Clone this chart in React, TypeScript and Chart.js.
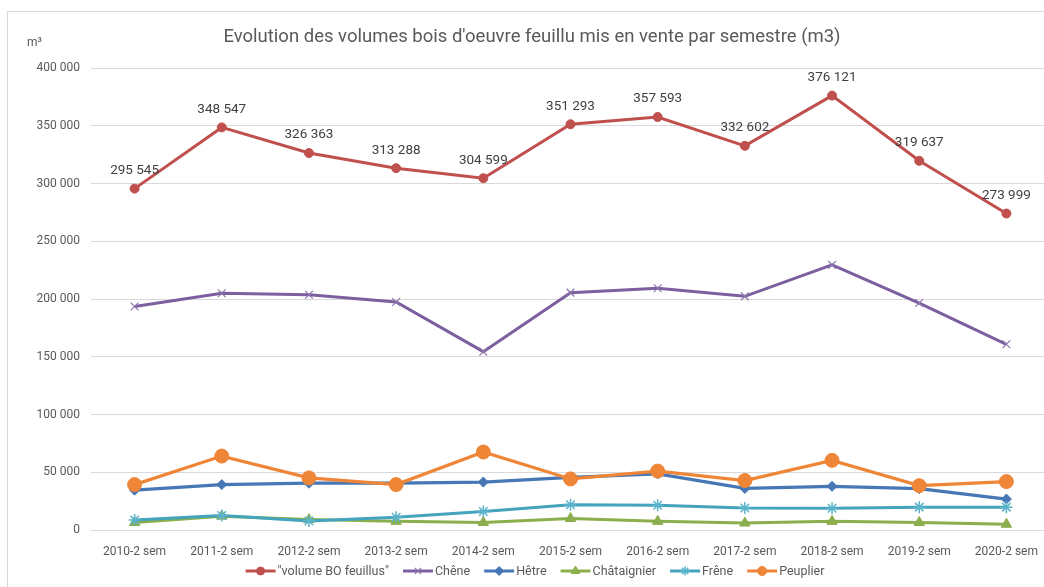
import React, { useEffect, useRef } from "react";
import { Chart, registerables } from "chart.js";
import { drawPoint } from "chart.js/helpers";

Chart.register(...registerables);

const categories = [
  "2010-2 sem", "2011-2 sem", "2012-2 sem", "2013-2 sem", "2014-2 sem", "2015-2 sem",
  "2016-2 sem", "2017-2 sem", "2018-2 sem", "2019-2 sem", "2020-2 sem",
];

const seriesNames = ['"volume BO feuillus"', "Chêne", "Hêtre", "Châtaignier", "Frêne", "Peuplier"];

const volumeBO = [295545, 348547, 326363, 313288, 304599, 351293, 357593, 332602, 376121, 319637, 273999];
const chene = [193500, 205000, 203700, 197400, 154400, 205500, 209300, 202300, 229500, 196500, 160800];
const hetre = [34500, 39300, 40500, 40500, 41500, 45500, 48600, 36000, 37800, 35800, 26800];
const chataignier = [6500, 12000, 9000, 7500, 6500, 10000, 7500, 6000, 7500, 6500, 5000];
const frene = [8700, 12500, 7800, 11000, 16000, 21800, 21500, 19000, 18900, 19800, 19800];
const peuplier = [39300, 64000, 45100, 39300, 67500, 44200, 51000, 42800, 60300, 38400, 41900];

const yTicks = [0, 50000, 100000, 150000, 200000, 250000, 300000, 350000, 400000];

const titleText = "Evolution des volumes bois d'oeuvre feuillu mis en vente par semestre (m3)";
const unitText = "m³";

const FONT = "Roboto, 'Liberation Sans', sans-serif";
const GRAY = "#595959";

const styles = [
  { color: "#c0504d", marker: "#c0504d", pointStyle: "circle", radius: 4.5, legendRadius: 4, lw: 3, pbw: 1 },
  { color: "#7b5f9e", marker: "#8d77ae", pointStyle: "crossRot", radius: 5.5, legendRadius: 4.5, lw: 3, pbw: 1.2 },
  { color: "#4777b5", marker: "#4777b5", pointStyle: "rectRot", radius: 5, legendRadius: 4.5, lw: 3.2, pbw: 1 },
  { color: "#8cae4c", marker: "#8cae4c", pointStyle: "triangle", radius: 6, legendRadius: 5, lw: 3, pbw: 1 },
  { color: "#44a3bd", marker: "#5ab4cc", pointStyle: "star", radius: 6, legendRadius: 4.5, lw: 3, pbw: 1.5 },
  { color: "#ee8537", marker: "#ee8537", pointStyle: "circle", radius: 7, legendRadius: 4.5, lw: 3.2, pbw: 1 },
];

const allSeries = [volumeBO, chene, hetre, chataignier, frene, peuplier];

function fmt(n: number): string {
  return String(Math.round(n)).replace(/\B(?=(\d{3})+(?!\d))/g, " ");
}

const overlayPlugin = {
  id: "overlay",
  afterDatasetsDraw(chart: any) {
    const ctx = chart.ctx;
    const meta = chart.getDatasetMeta(0);
    ctx.save();
    ctx.font = `13.5px ${FONT}`;
    ctx.fillStyle = "#404040";
    ctx.textAlign = "center";
    ctx.textBaseline = "middle";
    meta.data.forEach((pt: any, i: number) => {
      ctx.fillText(fmt(volumeBO[i]), pt.x, pt.y - 18);
    });
    ctx.restore();
  },
  afterDraw(chart: any) {
    const ctx = chart.ctx;
    ctx.save();
    // title
    ctx.font = `18.5px ${FONT}`;
    ctx.fillStyle = GRAY;
    ctx.textAlign = "center";
    ctx.textBaseline = "middle";
    ctx.fillText(titleText, 524, 25);
    // unit
    ctx.font = `12px ${FONT}`;
    ctx.textAlign = "left";
    ctx.fillText(unitText, 19, 31);
    // legend
    ctx.font = `12.5px ${FONT}`;
    const lineLen = 30;
    const textGap = 2;
    const itemGap = 14;
    const widths = seriesNames.map((n) => lineLen + textGap + ctx.measureText(n).width);
    const total = widths.reduce((a, b) => a + b, 0) + itemGap * (widths.length - 1);
    let x = 527 - total / 2;
    const y = 559;
    seriesNames.forEach((name, i) => {
      const s = styles[i];
      ctx.strokeStyle = s.color;
      ctx.lineWidth = 3;
      ctx.beginPath();
      ctx.moveTo(x, y);
      ctx.lineTo(x + lineLen, y);
      ctx.stroke();
      ctx.fillStyle = s.marker;
      ctx.strokeStyle = s.marker;
      ctx.lineWidth = s.pbw;
      drawPoint(ctx, { pointStyle: s.pointStyle, radius: s.legendRadius, rotation: 0, borderWidth: s.pbw }, x + lineLen / 2, y);
      ctx.fillStyle = GRAY;
      ctx.textAlign = "left";
      ctx.fillText(name, x + lineLen + textGap, y + 1);
      x += widths[i] + itemGap;
    });
    ctx.restore();
  },
};

export default function App() {
  const ref = useRef<HTMLCanvasElement | null>(null);
  useEffect(() => {
    if (!ref.current) return;
    const chart = new Chart(ref.current, {
      type: "line",
      data: {
        labels: categories,
        datasets: allSeries.map((data, i) => ({
          label: seriesNames[i],
          data,
          borderColor: styles[i].color,
          backgroundColor: styles[i].marker,
          pointBorderColor: styles[i].marker,
          pointBackgroundColor: styles[i].marker,
          pointStyle: styles[i].pointStyle as any,
          pointRadius: styles[i].radius,
          pointBorderWidth: styles[i].pbw,
          borderWidth: styles[i].lw,
          tension: 0,
          fill: false,
          order: 5 - i,
        })),
      },
      options: {
        animation: false,
        responsive: false,
        devicePixelRatio: 1,
        layout: { padding: { left: 0, right: 3, top: 56, bottom: 52 } },
        plugins: {
          legend: { display: false },
          title: { display: false },
          tooltip: { enabled: false },
        },
        scales: {
          x: {
            offset: true,
            grid: { display: false, offset: true },
            border: { display: false },
            ticks: {
              font: { family: FONT, size: 12 },
              color: GRAY,
              padding: 7,
              maxRotation: 0,
              autoSkip: false,
            },
            afterFit: (s: any) => {
              s.height = 30;
            },
          },
          y: {
            min: 0,
            max: 400000,
            afterBuildTicks: (s: any) => {
              s.ticks = yTicks.map((v) => ({ value: v }));
            },
            ticks: {
              font: { family: FONT, size: 12 },
              color: GRAY,
              padding: 11,
              callback: (v: any) => fmt(Number(v)),
            },
            grid: { color: "#d9d9d9", drawTicks: false, lineWidth: 1 },
            border: { display: false },
            afterFit: (s: any) => {
              s.width = 83;
            },
          },
        },
      },
      plugins: [overlayPlugin],
    });
    return () => chart.destroy();
  }, []);

  return (
    <div style={{ position: "fixed", left: 0, top: 0, width: 1044, height: 587, overflow: "hidden", background: "#fff" }}>
      <div style={{ position: "absolute", left: 7, top: 11, width: 1050, height: 600, border: "1px solid #d9d9d9" }}>
        <canvas ref={ref} width={1050} height={600} style={{ display: "block", width: 1050, height: 600 }} />
      </div>
    </div>
  );
}
